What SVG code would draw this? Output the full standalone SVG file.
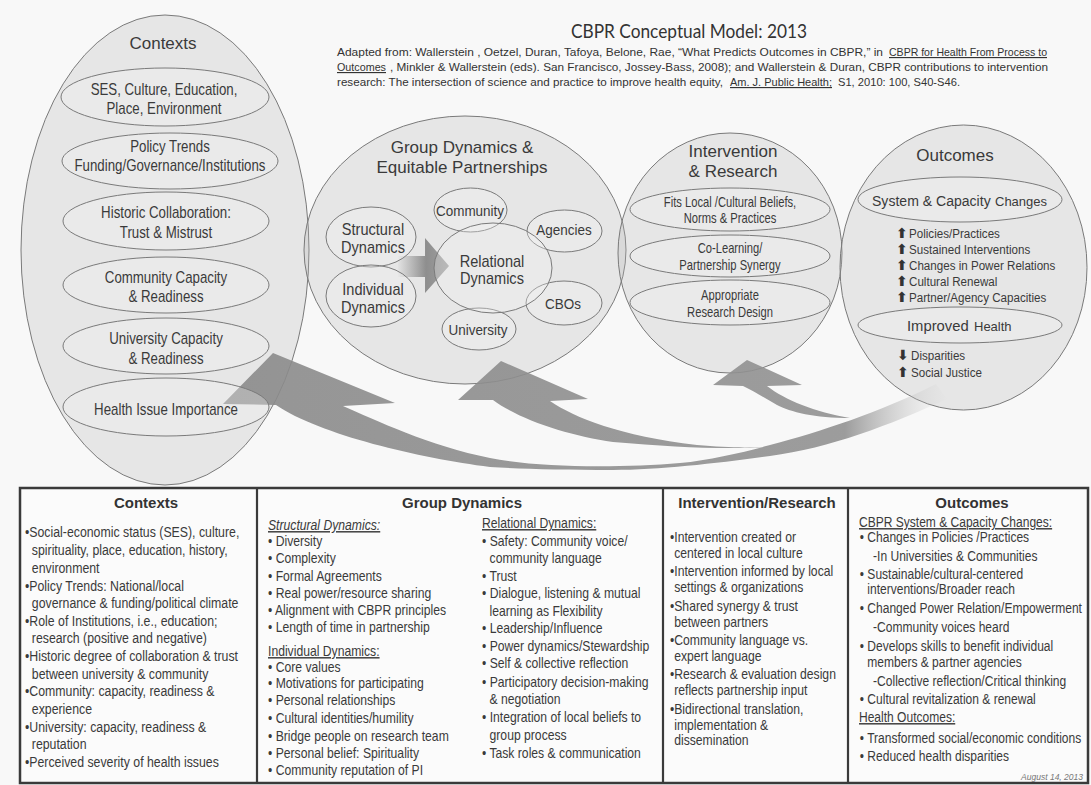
<svg xmlns="http://www.w3.org/2000/svg" width="1091" height="785" viewBox="0 0 1091 785">
<defs>
<style>
.big{fill:#b4b4b4;fill-opacity:0.27;stroke:#7a7a7a;stroke-width:1}
.in{fill:#f4f4f4;fill-opacity:0.3;stroke:#7a7a7a;stroke-width:1}
.f{font-family:"Liberation Sans",Arial,sans-serif;fill:#3a3a3a}
.m{text-anchor:middle}
.ttl{font-size:17px}
.c16{font-size:16px}
.c15{font-size:15px}
.c14{font-size:14px}
.c135{font-size:13.5px}
.tb{font-size:14.5px}
.hd{font-size:15px;font-weight:bold;fill:#333}
.sub{font-family:"Liberation Sans",Arial,sans-serif;font-size:11.5px;fill:#333}
.cal{font-family:Lato,"Open Sans",sans-serif;fill:#333}
.ar{font-family:"DejaVu Sans",sans-serif;font-size:14px;font-weight:bold;fill:#333}
.u{text-decoration:underline}
.grid{stroke:#3a3a3a;stroke-width:2.2}
</style>
<linearGradient id="ag" gradientUnits="userSpaceOnUse" x1="200" y1="0" x2="950" y2="0">
<stop offset="0" stop-color="#8a8a8a"/>
<stop offset="0.86" stop-color="#929292" stop-opacity="1"/>
<stop offset="1" stop-color="#d0d0d0" stop-opacity="0"/>
</linearGradient>
<linearGradient id="bg" gradientUnits="userSpaceOnUse" x1="398" y1="0" x2="449" y2="0">
<stop offset="0" stop-color="#e2e2e2"/>
<stop offset="0.55" stop-color="#8e8e8e"/>
<stop offset="1" stop-color="#a0a0a0"/>
</linearGradient>
</defs>
<rect x="0" y="0" width="1091" height="785" fill="#f8f8f8"/>

<g id="title">
<text class="cal" x="689" y="38" font-size="19" text-anchor="middle" textLength="236" lengthAdjust="spacingAndGlyphs">CBPR Conceptual Model: 2013</text>
<text class="sub" x="337" y="56" textLength="546" lengthAdjust="spacingAndGlyphs">Adapted from: Wallerstein , Oetzel, Duran, Tafoya, Belone, Rae, “What Predicts Outcomes in CBPR,” in</text>
<text class="sub u" x="889" y="56" textLength="158" lengthAdjust="spacingAndGlyphs">CBPR for Health From Process to</text>
<text class="sub u" x="337" y="71" textLength="49" lengthAdjust="spacingAndGlyphs">Outcomes</text>
<text class="sub" x="390" y="71" textLength="658" lengthAdjust="spacingAndGlyphs">, Minkler &amp; Wallerstein (eds). San Francisco, Jossey-Bass, 2008); and Wallerstein &amp; Duran, CBPR contributions to intervention</text>
<text class="sub" x="337" y="86" textLength="386" lengthAdjust="spacingAndGlyphs">research: The intersection of science and practice to improve health equity,</text>
<text class="sub u" x="730" y="86" textLength="102" lengthAdjust="spacingAndGlyphs">Am. J. Public Health;</text>
<text class="sub" x="838" y="86" textLength="122" lengthAdjust="spacingAndGlyphs">S1, 2010: 100, S40-S46.</text>
</g>

<g id="contexts">
<ellipse class="big" cx="165" cy="250" rx="144" ry="235"/>
<text class="f ttl m" x="163" y="49">Contexts</text>
</g>
<g id="group-dynamics">
<ellipse class="big" cx="465" cy="250" rx="161" ry="134"/>
<text class="f ttl m" x="462" y="153">Group Dynamics &amp;</text>
<text class="f ttl m" x="462" y="173">Equitable Partnerships</text>
</g>
<g id="intervention">
<ellipse class="big" cx="730" cy="253" rx="112" ry="120"/>
<text class="f ttl m" x="733" y="157">Intervention</text>
<text class="f ttl m" x="733" y="177">&amp; Research</text>
</g>
<g id="outcomes">
<ellipse class="big" cx="963.5" cy="267.5" rx="123.5" ry="142.5"/>
<text class="f ttl m" x="955" y="161">Outcomes</text>
</g>

<g id="connectors">
<path fill="url(#ag)" opacity="0.9" d="M273,353 L395,403 L343,406 C375,420 430,446 490,458 C540,468 620,468 680,463 C710,460 745,452 770,445 C820,432 880,412 936,384 L947,399 C890,425 830,448 770,456 C720,463 660,470 613,470 C560,470 520,469 490,467 C420,458 320,435 276,405 L223,404 Z"/>
<path fill="url(#ag)" opacity="0.9" d="M501,361 L588,399 L550,401 C575,418 620,436 697,445 C730,448 755,448 775,446 C740,450 680,448 613,442 C570,436 520,420 493,400 L458,400 Z"/>
<path fill="url(#ag)" opacity="0.9" d="M747,360 L802,385 L767,386 C785,400 815,412 850,418 C815,418 790,412 777,405 C765,398 755,392 743,386 L713,385 Z"/>
<path fill="url(#bg)" d="M398,256 L425,256 L425,238 L449,266 L425,293 L425,277 L398,277 Z"/>
</g>

<g id="ctx-ses">
<ellipse class="in" cx="165" cy="97" rx="104" ry="29"/>
<text class="f c16 m" transform="translate(164,95) scale(0.83,1)">SES, Culture, Education,</text>
<text class="f c16 m" transform="translate(164,114) scale(0.83,1)">Place, Environment</text>
</g>
<g id="ctx-policy">
<ellipse class="in" cx="170" cy="161" rx="108" ry="28"/>
<text class="f c16 m" transform="translate(170,152) scale(0.83,1)">Policy Trends</text>
<text class="f c16 m" transform="translate(170,171) scale(0.83,1)">Funding/Governance/Institutions</text>
</g>
<g id="ctx-historic">
<ellipse class="in" cx="166" cy="221" rx="103" ry="29"/>
<text class="f c16 m" transform="translate(166,218) scale(0.83,1)">Historic Collaboration:</text>
<text class="f c16 m" transform="translate(166,238) scale(0.83,1)">Trust &amp; Mistrust</text>
</g>
<g id="ctx-community">
<ellipse class="in" cx="166" cy="285" rx="103" ry="28"/>
<text class="f c16 m" transform="translate(166,283) scale(0.83,1)">Community Capacity</text>
<text class="f c16 m" transform="translate(166,302) scale(0.83,1)">&amp; Readiness</text>
</g>
<g id="ctx-university">
<ellipse class="in" cx="166" cy="346" rx="103" ry="28"/>
<text class="f c16 m" transform="translate(166,344) scale(0.83,1)">University Capacity</text>
<text class="f c16 m" transform="translate(166,364) scale(0.83,1)">&amp; Readiness</text>
</g>
<g id="ctx-health">
<ellipse class="in" cx="166" cy="407" rx="103" ry="29"/>
<text class="f c16 m" transform="translate(166,415) scale(0.83,1)">Health Issue Importance</text>
</g>

<g id="gd-structural">
<ellipse class="in" cx="371" cy="237" rx="45" ry="30"/>
<text class="f c16 m" transform="translate(373,235) scale(0.91,1)">Structural</text>
<text class="f c16 m" transform="translate(373,253) scale(0.91,1)">Dynamics</text>
</g>
<g id="gd-individual">
<ellipse class="in" cx="371" cy="296" rx="45" ry="31"/>
<text class="f c16 m" transform="translate(373,295) scale(0.91,1)">Individual</text>
<text class="f c16 m" transform="translate(373,313) scale(0.91,1)">Dynamics</text>
</g>
<g id="gd-community">
<ellipse class="in" cx="470.5" cy="210" rx="36.5" ry="22"/>
<text class="f c15 m" transform="translate(470,216) scale(0.9,1)">Community</text>
</g>
<g id="gd-agencies">
<ellipse class="in" cx="564.5" cy="231" rx="37.5" ry="21"/>
<text class="f c15 m" transform="translate(564,235) scale(0.9,1)">Agencies</text>
</g>
<g id="gd-cbos">
<ellipse class="in" cx="564" cy="303" rx="38" ry="22"/>
<text class="f c15 m" transform="translate(563,309) scale(0.9,1)">CBOs</text>
</g>
<g id="gd-university">
<ellipse class="in" cx="479" cy="329" rx="37" ry="21"/>
<text class="f c15 m" transform="translate(478,335) scale(0.9,1)">University</text>
</g>
<g id="gd-relational">
<ellipse class="in" cx="493" cy="268" rx="59" ry="45"/>
<text class="f c16 m" transform="translate(492,267) scale(0.91,1)">Relational</text>
<text class="f c16 m" transform="translate(492,284) scale(0.91,1)">Dynamics</text>
</g>

<g id="ir-fits">
<ellipse class="in" cx="730" cy="209.5" rx="100" ry="21.5"/>
<text class="f c14 m" transform="translate(730,207) scale(0.8,1)">Fits Local /Cultural Beliefs,</text>
<text class="f c14 m" transform="translate(730,223) scale(0.8,1)">Norms &amp; Practices</text>
</g>
<g id="ir-colearning">
<ellipse class="in" cx="730" cy="256" rx="100" ry="21"/>
<text class="f c14 m" transform="translate(730,253) scale(0.8,1)">Co-Learning/</text>
<text class="f c14 m" transform="translate(730,270) scale(0.8,1)">Partnership Synergy</text>
</g>
<g id="ir-design">
<ellipse class="in" cx="730" cy="302.5" rx="100" ry="22.5"/>
<text class="f c14 m" transform="translate(730,300) scale(0.8,1)">Appropriate</text>
<text class="f c14 m" transform="translate(730,317) scale(0.8,1)">Research Design</text>
</g>

<g id="out-system">
<ellipse class="in" cx="960" cy="199.5" rx="102" ry="22.5"/>
<text class="f" font-size="14.8" transform="translate(872,206) scale(0.95,1)">System &amp; Capacity</text>
<text class="f" font-size="13" x="995" y="206">Changes</text>
<text class="ar" x="896" y="238">⬆</text><text class="f c135" transform="translate(909,238) scale(0.86,1)">Policies/Practices</text>
<text class="ar" x="896" y="254">⬆</text><text class="f c135" transform="translate(909,254) scale(0.86,1)">Sustained Interventions</text>
<text class="ar" x="896" y="270">⬆</text><text class="f c135" transform="translate(909,270) scale(0.86,1)">Changes in Power Relations</text>
<text class="ar" x="896" y="286">⬆</text><text class="f c135" transform="translate(909,286) scale(0.86,1)">Cultural Renewal</text>
<text class="ar" x="896" y="302">⬆</text><text class="f c135" transform="translate(909,302) scale(0.86,1)">Partner/Agency Capacities</text>
</g>
<g id="out-health">
<ellipse class="in" cx="960" cy="325" rx="102" ry="18"/>
<text class="f" font-size="14.8" x="907" y="331">Improved</text>
<text class="f" font-size="13" x="974" y="331">Health</text>
<text class="ar" x="897" y="360">⬇</text><text class="f c135" transform="translate(911,360) scale(0.86,1)">Disparities</text>
<text class="ar" x="897" y="377">⬆</text><text class="f c135" transform="translate(911,377) scale(0.86,1)">Social Justice</text>
</g>

<g id="table">
<rect x="20" y="488" width="1068" height="295" fill="#fbfbfb" stroke="#3a3a3a" stroke-width="2.5"/>
<line class="grid" x1="257" y1="488" x2="257" y2="783"/>
<line class="grid" x1="663" y1="488" x2="663" y2="783"/>
<line class="grid" x1="848" y1="488" x2="848" y2="783"/>
</g>

<g id="col-contexts">
<text class="f hd m" x="146" y="508">Contexts</text>
<g transform="translate(25,0) scale(0.85,1)">
<text class="f tb" x="0" y="537">•Social-economic status (SES), culture,</text>
<text class="f tb" x="8" y="555">spirituality, place, education, history,</text>
<text class="f tb" x="8" y="573">environment</text>
<text class="f tb" x="0" y="591">•Policy Trends: National/local</text>
<text class="f tb" x="8" y="608">governance &amp; funding/political climate</text>
<text class="f tb" x="0" y="626">•Role of Institutions, i.e., education;</text>
<text class="f tb" x="8" y="643">research (positive and negative)</text>
<text class="f tb" x="0" y="661">•Historic degree of collaboration &amp; trust</text>
<text class="f tb" x="8" y="679">between university &amp; community</text>
<text class="f tb" x="0" y="696">•Community: capacity, readiness &amp;</text>
<text class="f tb" x="8" y="714">experience</text>
<text class="f tb" x="0" y="732">•University: capacity, readiness &amp;</text>
<text class="f tb" x="8" y="749">reputation</text>
<text class="f tb" x="0" y="767">•Perceived severity of health issues</text>
</g>
</g>

<g id="col-group-dynamics">
<text class="f hd m" x="462" y="508">Group Dynamics</text>
<g transform="translate(268,0) scale(0.84,1)">
<text class="f tb u" x="0" y="530" font-style="italic">Structural Dynamics:</text>
<text class="f tb" x="0" y="546">• Diversity</text>
<text class="f tb" x="0" y="563">• Complexity</text>
<text class="f tb" x="0" y="581">• Formal Agreements</text>
<text class="f tb" x="0" y="598">• Real power/resource sharing</text>
<text class="f tb" x="0" y="615">• Alignment with CBPR principles</text>
<text class="f tb" x="0" y="632">• Length of time in partnership</text>
<text class="f tb u" x="0" y="656">Individual Dynamics:</text>
<text class="f tb" x="0" y="672">• Core values</text>
<text class="f tb" x="0" y="688">• Motivations for participating</text>
<text class="f tb" x="0" y="705">• Personal relationships</text>
<text class="f tb" x="0" y="723">• Cultural identities/humility</text>
<text class="f tb" x="0" y="741">• Bridge people on research team</text>
<text class="f tb" x="0" y="758">• Personal belief: Spirituality</text>
<text class="f tb" x="0" y="775">• Community reputation of PI</text>
</g>
<g transform="translate(482,0) scale(0.84,1)">
<text class="f tb u" x="0" y="528">Relational Dynamics:</text>
<text class="f tb" x="0" y="546">• Safety: Community voice/</text>
<text class="f tb" x="9" y="563">community language</text>
<text class="f tb" x="0" y="581">• Trust</text>
<text class="f tb" x="0" y="598">• Dialogue, listening &amp; mutual</text>
<text class="f tb" x="9" y="616">learning as Flexibility</text>
<text class="f tb" x="0" y="633">• Leadership/Influence</text>
<text class="f tb" x="0" y="651">• Power dynamics/Stewardship</text>
<text class="f tb" x="0" y="668">• Self &amp; collective reflection</text>
<text class="f tb" x="0" y="687">• Participatory decision-making</text>
<text class="f tb" x="9" y="704">&amp; negotiation</text>
<text class="f tb" x="0" y="722">• Integration of local beliefs to</text>
<text class="f tb" x="9" y="740">group process</text>
<text class="f tb" x="0" y="758">• Task roles &amp; communication</text>
</g>
</g>

<g id="col-intervention">
<text class="f hd m" x="757" y="508">Intervention/Research</text>
<g transform="translate(670,0) scale(0.84,1)">
<text class="f tb" x="0" y="542">•Intervention created or</text>
<text class="f tb" x="5" y="558">centered in local culture</text>
<text class="f tb" x="0" y="576">•Intervention informed by local</text>
<text class="f tb" x="5" y="592">settings &amp; organizations</text>
<text class="f tb" x="0" y="611">•Shared synergy &amp; trust</text>
<text class="f tb" x="5" y="627">between partners</text>
<text class="f tb" x="0" y="645">•Community language vs.</text>
<text class="f tb" x="5" y="661">expert language</text>
<text class="f tb" x="0" y="679">•Research &amp; evaluation design</text>
<text class="f tb" x="5" y="695">reflects partnership input</text>
<text class="f tb" x="0" y="714">•Bidirectional translation,</text>
<text class="f tb" x="5" y="730">implementation &amp;</text>
<text class="f tb" x="5" y="745">dissemination</text>
</g>
</g>

<g id="col-outcomes">
<text class="f hd m" x="972" y="508">Outcomes</text>
<g transform="translate(859,0) scale(0.83,1)">
<text class="f tb u" x="0" y="527">CBPR System &amp; Capacity Changes:</text>
<text class="f tb" x="1" y="542">• Changes in Policies /Practices</text>
<text class="f tb" x="17" y="561">-In Universities &amp; Communities</text>
<text class="f tb" x="1" y="579">• Sustainable/cultural-centered</text>
<text class="f tb" x="10" y="594">interventions/Broader reach</text>
<text class="f tb" x="1" y="613">• Changed Power Relation/Empowerment</text>
<text class="f tb" x="17" y="632">-Community voices heard</text>
<text class="f tb" x="1" y="651">• Develops skills to benefit individual</text>
<text class="f tb" x="10" y="667">members &amp; partner agencies</text>
<text class="f tb" x="17" y="686">-Collective reflection/Critical thinking</text>
<text class="f tb" x="1" y="704">• Cultural revitalization &amp; renewal</text>
<text class="f tb u" x="0" y="722">Health Outcomes:</text>
<text class="f tb" x="1" y="743">• Transformed social/economic conditions</text>
<text class="f tb" x="1" y="761">• Reduced health disparities</text>
</g>
<text x="1083" y="780" font-family="Liberation Sans, Arial, sans-serif" font-size="8.5" font-style="italic" fill="#777" text-anchor="end">August 14, 2013</text>
</g>
</svg>
